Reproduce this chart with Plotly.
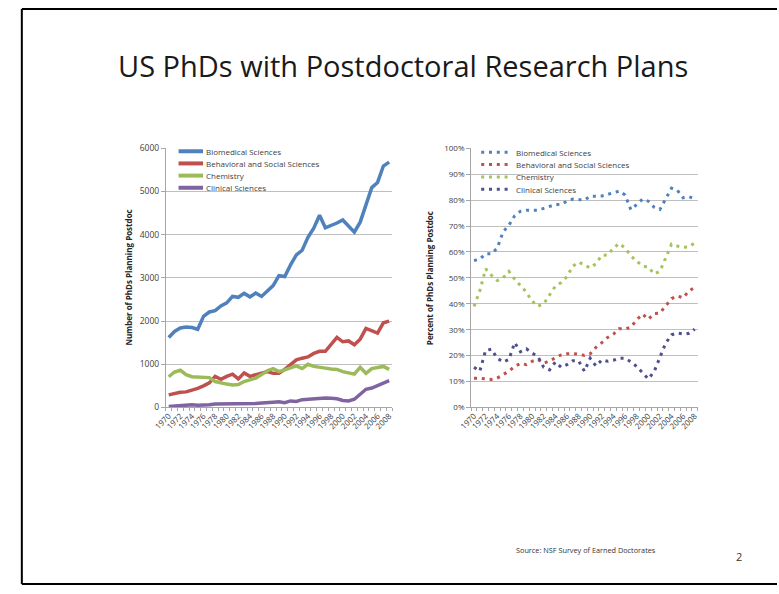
import plotly.graph_objects as go

years = list(range(1970, 2009))
fields = ["Biomedical Sciences", "Behavioral and Social Sciences", "Chemistry", "Clinical Sciences"]
year_labels = [str(y) for y in range(1970, 2009, 2)]

count_bio = [1620, 1760, 1840, 1860, 1850, 1810, 2110, 2210, 2240, 2350,
             2420, 2570, 2550, 2640, 2560, 2650, 2570, 2700, 2820, 3050,
             3030, 3300, 3530, 3640, 3940, 4150, 4450, 4160, 4210, 4270,
             4340, 4200, 4060, 4290, 4700, 5090, 5210, 5590, 5680]
count_beh = [290, 330, 350, 360, 390, 440, 500, 570, 720, 650,
             720, 770, 660, 800, 720, 760, 790, 830, 790, 790,
             880, 1000, 1100, 1140, 1170, 1250, 1300, 1300, 1450, 1620,
             1520, 1540, 1450, 1580, 1830, 1770, 1720, 1960, 2000]
count_chem = [710, 820, 860, 760, 710, 700, 700, 690, 600, 560,
              540, 520, 530, 600, 650, 680, 760, 850, 900, 830,
              870, 920, 960, 900, 1000, 950, 920, 910, 890, 880,
              830, 810, 770, 930, 790, 900, 930, 950, 880]
count_clin = [20, 30, 40, 70, 60, 50, 50, 60, 80, 80,
              70, 80, 80, 70, 70, 90, 100, 100, 120, 130,
              110, 150, 140, 180, 190, 200, 220, 220, 210, 200,
              160, 150, 190, 300, 420, 450, 500, 570, 620]

pct_bio = [56.7, 57.2, 59.3, 59.3, 61.5, 67.7, 70.3, 74.0, 75.7, 76.1,
           76.1, 76.1, 76.8, 77.6, 78.3, 78.3, 79.6, 80.4, 80.2, 80.0,
           81.5, 81.6, 81.6, 82.2, 83.0, 83.5, 82.0, 76.3, 78.3, 80.4,
           79.6, 77.3, 76.4, 80.5, 84.6, 83.8, 80.9, 81.3, 80.5]
pct_beh = [11.3, 11.3, 11.0, 10.8, 11.3, 12.5, 14.0, 15.8, 17.0, 16.5,
           17.8, 18.5, 17.0, 18.0, 19.2, 20.3, 20.7, 20.8, 20.5, 20.1,
           20.7, 23.2, 25.0, 27.0, 28.3, 30.4, 30.2, 31.0, 33.8, 36.0,
           34.0, 36.2, 36.4, 39.2, 42.0, 43.0, 42.3, 45.0, 46.3]
pct_chem = [39.0, 45.0, 53.5, 51.0, 49.0, 50.0, 52.5, 49.5, 47.0, 44.5,
            41.0, 39.0, 40.0, 43.5, 46.8, 48.2, 50.5, 54.5, 56.1, 55.0,
            53.8, 55.5, 58.7, 58.8, 61.5, 63.3, 61.5, 58.5, 56.5, 54.5,
            54.2, 51.5, 52.5, 58.0, 63.0, 62.3, 61.8, 62.0, 63.5]
pct_clin = [15.5, 14.0, 22.0, 22.5, 19.0, 17.5, 18.5, 25.0, 21.5, 22.6,
            21.0, 19.6, 15.5, 14.5, 17.5, 15.5, 16.5, 18.0, 18.0, 14.0,
            19.0, 16.0, 18.3, 17.8, 18.2, 19.0, 19.0, 17.6, 15.8, 13.5,
            11.0, 13.8, 19.0, 24.8, 28.0, 28.7, 28.3, 28.6, 30.2]

count_series = [count_bio, count_beh, count_chem, count_clin]
pct_series = [pct_bio, pct_beh, pct_chem, pct_clin]

line_colors = ["#4F81BD", "#C0504D", "#9BBB59", "#8064A2"]
dot_colors = ["#4F81BD", "#C0504D", "#A4C35A", "#4E4F8E"]
DOT_DASH = "3px,4.8px"

W, H = 779, 594
def X(px):
    return px / W
def Y(py):
    return 1 - py / H

FONT = "Open Sans"
TXT = "#404040"
GRID = "#BFBFBF"
AXIS = "#A6A6A6"

fig = go.Figure()
for name, vals, col in zip(fields, count_series, line_colors):
    fig.add_trace(go.Scatter(x=years, y=vals, mode="lines", name=name,
                             line=dict(color=col, width=3.5), showlegend=False,
                             xaxis="x", yaxis="y"))
for name, vals, col in zip(fields, pct_series, dot_colors):
    fig.add_trace(go.Scatter(x=years, y=vals, mode="lines", name=name,
                             line=dict(color=col, width=3, dash=DOT_DASH), showlegend=False,
                             xaxis="x2", yaxis="y2"))

minor_vals = [y - 0.5 for y in range(1970, 2010)]
xcommon = dict(range=[1969.5, 2008.5], tickmode="array",
               tickvals=list(range(1970, 2009, 2)), ticktext=year_labels,
               tickangle=-45, ticks="", showgrid=False, zeroline=False,
               showline=True, linecolor=AXIS, linewidth=1,
               tickfont=dict(family=FONT, size=8, color=TXT),
               minor=dict(tickmode="array", tickvals=minor_vals, ticks="outside",
                          ticklen=3, tickcolor=AXIS, tickwidth=1, showgrid=False))
ydom = [Y(409), Y(145)]

fig.update_layout(
    width=W, height=H, autosize=False,
    margin=dict(l=0, r=0, t=0, b=0),
    paper_bgcolor="white", plot_bgcolor="white",
    showlegend=False,
    xaxis=dict(domain=[X(155), X(386)], anchor="y", **xcommon),
    xaxis2=dict(domain=[X(466.7), X(698)], anchor="y2", **xcommon),
    yaxis=dict(domain=ydom, anchor="x", range=[0, 6000], tickmode="linear", tick0=0, dtick=1000,
               showgrid=True, gridcolor=GRID, gridwidth=1, zeroline=False,
               showline=True, linecolor=AXIS, linewidth=1, ticks="outside", ticklen=4,
               tickcolor=AXIS, tickfont=dict(family=FONT, size=8.5, color=TXT)),
    yaxis2=dict(domain=ydom, anchor="x2", range=[0, 100], tickmode="linear", tick0=0, dtick=10,
                ticksuffix="%", showgrid=True, gridcolor=GRID, gridwidth=1, zeroline=False,
                showline=True, linecolor=AXIS, linewidth=1, ticks="outside", ticklen=4,
                tickcolor=AXIS, tickfont=dict(family=FONT, size=8, color=TXT)),
)

shapes = []
# slide frame
shapes.append(dict(type="line", xref="paper", yref="paper", x0=X(8), x1=X(8), y0=Y(3), y1=Y(589),
                   line=dict(color="black", width=2)))
shapes.append(dict(type="line", xref="paper", yref="paper", x0=X(8), x1=1.0, y0=Y(3), y1=Y(3),
                   line=dict(color="black", width=2)))
shapes.append(dict(type="line", xref="paper", yref="paper", x0=X(8), x1=1.0, y0=Y(589), y1=Y(589),
                   line=dict(color="black", width=2)))

annotations = []
annotations.append(dict(text="US PhDs with Postdoctoral Research Plans", xref="paper", yref="paper",
                        x=X(397), y=Y(61), xanchor="center", yanchor="middle", showarrow=False,
                        font=dict(family=FONT, size=29, color="#1a1a1a")))
annotations.append(dict(text="Number of PhDs Planning Postdoc", xref="paper", yref="paper",
                        x=X(117), y=Y(277), textangle=-90, xanchor="center", yanchor="middle",
                        showarrow=False, font=dict(family=FONT, size=8, color="#262626", weight="bold")))
annotations.append(dict(text="Percent of PhDs Planning Postdoc", xref="paper", yref="paper",
                        x=X(425), y=Y(277), textangle=-90, xanchor="center", yanchor="middle",
                        showarrow=False, font=dict(family=FONT, size=8, color="#262626", weight="bold")))
annotations.append(dict(text="Source: NSF Survey of Earned Doctorates", xref="paper", yref="paper",
                        x=X(510), y=Y(554), xanchor="left", yanchor="middle", showarrow=False,
                        font=dict(family=FONT, size=7.3, color="#333333")))
annotations.append(dict(text="2", xref="paper", yref="paper",
                        x=X(740), y=Y(561), xanchor="center", yanchor="middle", showarrow=False,
                        font=dict(family=FONT, size=11, color="#333333")))

# legends
for i, (name, col) in enumerate(zip(fields, line_colors)):
    yy = 148 + 12.4 * i
    shapes.append(dict(type="line", xref="paper", yref="paper", x0=X(168), x1=X(193),
                       y0=Y(yy), y1=Y(yy), line=dict(color=col, width=4)))
    annotations.append(dict(text=name, xref="paper", yref="paper", x=X(194), y=Y(yy),
                            xanchor="left", yanchor="middle", showarrow=False,
                            font=dict(family=FONT, size=8, color=TXT)))
for i, (name, col) in enumerate(zip(fields, dot_colors)):
    yy = 149 + 12.6 * i
    shapes.append(dict(type="line", xref="paper", yref="paper", x0=X(477), x1=X(508),
                       y0=Y(yy), y1=Y(yy), line=dict(color=col, width=3, dash=DOT_DASH)))
    annotations.append(dict(text=name, xref="paper", yref="paper", x=X(510), y=Y(yy),
                            xanchor="left", yanchor="middle", showarrow=False,
                            font=dict(family=FONT, size=8, color=TXT)))

fig.update_layout(shapes=shapes, annotations=annotations)
fig.write_html("out.html", config={"displayModeBar": False},
               post_script=("document.documentElement.style.margin='0';"
                            "document.documentElement.style.padding='0';"
                            "document.documentElement.style.overflow='hidden';"
                            "document.body.style.margin='0';"
                            "document.body.style.padding='0';"
                            "document.body.style.overflow='hidden';"))
